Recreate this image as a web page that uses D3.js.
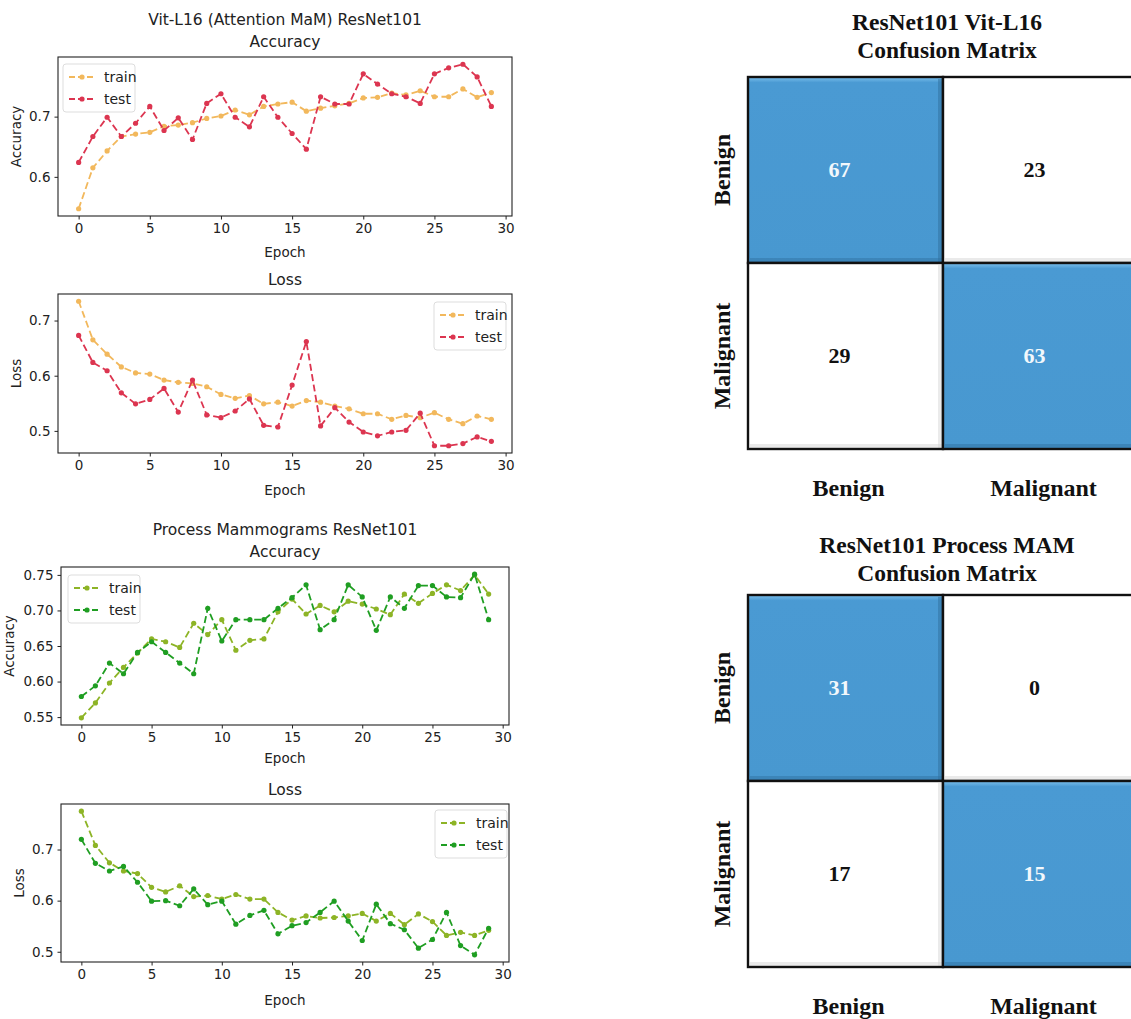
<!DOCTYPE html>
<html lang="en">
<head>
  <meta charset="UTF-8">
  <title>ResNet101 training curves and confusion matrices</title>
  <script src="https://d3js.org/d3.v7.min.js"></script>
  <style>
    body { margin: 0; background: #fff; }
    .plot text { font-family: "DejaVu Sans", sans-serif; fill: #222; }
    .cm text { font-family: "Liberation Serif", "Times New Roman", serif; font-weight: bold; }
    .spine { fill: none; stroke: #222; stroke-width: 1.1px; }
    .axis path { display: none; }
    .axis line { stroke: #222; }
    .axis text { font-size: 13.5px; }
  </style>
</head>
<body>
<svg width="1131" height="1019" id="fig"></svg>

<script>
  // epochs 0..29
  const epochs = d3.range(30);

  // Vit-L16 (Attention MaM) ResNet101
  const vitAccTrain = [0.547, 0.615, 0.643, 0.667, 0.671, 0.674, 0.684, 0.686, 0.690, 0.697,
    0.701, 0.711, 0.703, 0.717, 0.721, 0.724, 0.709, 0.714, 0.718, 0.722,
    0.731, 0.732, 0.739, 0.736, 0.743, 0.733, 0.733, 0.746, 0.732, 0.740];
  const vitAccTest = [0.624, 0.667, 0.699, 0.667, 0.689, 0.717, 0.677, 0.698, 0.662, 0.722,
    0.738, 0.699, 0.683, 0.733, 0.699, 0.672, 0.646, 0.733, 0.721, 0.721,
    0.771, 0.754, 0.738, 0.733, 0.722, 0.771, 0.781, 0.787, 0.766, 0.717];
  const vitLossTrain = [0.735, 0.665, 0.639, 0.616, 0.605, 0.603, 0.592, 0.588, 0.586, 0.580,
    0.566, 0.559, 0.564, 0.549, 0.552, 0.545, 0.555, 0.552, 0.545, 0.540,
    0.531, 0.531, 0.521, 0.528, 0.524, 0.533, 0.521, 0.513, 0.527, 0.521];
  const vitLossTest = [0.673, 0.624, 0.609, 0.569, 0.549, 0.557, 0.577, 0.534, 0.592, 0.529,
    0.524, 0.536, 0.558, 0.510, 0.507, 0.583, 0.662, 0.509, 0.542, 0.516,
    0.498, 0.491, 0.498, 0.501, 0.532, 0.473, 0.473, 0.477, 0.489, 0.481];

  // Process Mammograms ResNet101
  const pmAccTrain = [0.549, 0.570, 0.598, 0.620, 0.640, 0.660, 0.656, 0.648, 0.682, 0.666,
    0.687, 0.644, 0.658, 0.660, 0.698, 0.716, 0.695, 0.707, 0.698, 0.713,
    0.709, 0.702, 0.694, 0.723, 0.710, 0.724, 0.736, 0.728, 0.750, 0.723];
  const pmAccTest = [0.579, 0.594, 0.626, 0.611, 0.641, 0.656, 0.641, 0.626, 0.611, 0.703,
    0.657, 0.687, 0.687, 0.687, 0.703, 0.718, 0.736, 0.673, 0.687, 0.736,
    0.719, 0.672, 0.719, 0.703, 0.735, 0.735, 0.719, 0.718, 0.751, 0.687];
  const pmLossTrain = [0.775, 0.708, 0.674, 0.658, 0.653, 0.626, 0.617, 0.629, 0.608, 0.610,
    0.603, 0.612, 0.603, 0.603, 0.577, 0.562, 0.570, 0.566, 0.567, 0.570,
    0.575, 0.560, 0.575, 0.553, 0.574, 0.559, 0.532, 0.538, 0.532, 0.542];
  const pmLossTest = [0.720, 0.673, 0.658, 0.667, 0.636, 0.599, 0.600, 0.590, 0.623, 0.592,
    0.599, 0.554, 0.571, 0.581, 0.535, 0.551, 0.557, 0.577, 0.599, 0.560,
    0.522, 0.593, 0.555, 0.543, 0.507, 0.524, 0.577, 0.512, 0.494, 0.546];

  const xTicks = [0, 5, 10, 15, 20, 25, 30];
  const seriesNames = ['train', 'test'];

  // confusion matrices
  const classes = ['Benign', 'Malignant'];
  const cmVit = [[67, 23], [29, 63]];
  const cmPm = [[31, 0], [17, 15]];

  const svg = d3.select('#fig');

  function linePanel(o) {
    const g = svg.append('g').attr('class', 'plot');
    const all = o.series.flat();
    const [lo, hi] = d3.extent(all);
    const pad = (hi - lo) * 0.05;
    const x = d3.scaleLinear().domain([-1.45, 30.45]).range([o.box[0], o.box[1]]);
    const y = d3.scaleLinear().domain([lo - pad, hi + pad]).range([o.box[3], o.box[2]]);

    g.append('g').attr('class', 'axis')
      .attr('transform', `translate(0,${o.box[3]})`)
      .call(d3.axisBottom(x).tickValues(xTicks).tickSize(3.5).tickPadding(4).tickFormat(d3.format('d')));
    g.append('g').attr('class', 'axis')
      .attr('transform', `translate(${o.box[0]},0)`)
      .call(d3.axisLeft(y).tickValues(o.yTicks).tickSize(3.5).tickPadding(4).tickFormat(d3.format(o.yFmt)));

    o.series.forEach((s, i) => {
      const line = d3.line().x((d, j) => x(epochs[j])).y(d => y(d));
      g.append('path').datum(s)
        .attr('d', line)
        .attr('fill', 'none')
        .attr('stroke', o.colors[i])
        .attr('stroke-width', 1.8)
        .attr('stroke-dasharray', '7,3.5');
      g.selectAll(null).data(s).enter().append('circle')
        .attr('cx', (d, j) => x(epochs[j]))
        .attr('cy', d => y(d))
        .attr('r', 2.6)
        .attr('fill', o.colors[i]);
    });

    g.append('rect').attr('class', 'spine')
      .attr('x', o.box[0]).attr('y', o.box[2])
      .attr('width', o.box[1] - o.box[0]).attr('height', o.box[3] - o.box[2]);

    // legend
    const lg = g.append('g').attr('transform', `translate(${o.legend[0]},${o.legend[1]})`);
    lg.append('rect').attr('width', 72).attr('height', 48).attr('rx', 3)
      .attr('fill', '#fff').attr('fill-opacity', 0.8).attr('stroke', '#ddd');
    seriesNames.forEach((n, i) => {
      const ly = 13 + i * 22;
      lg.append('line').attr('x1', 6).attr('x2', 32).attr('y1', ly).attr('y2', ly)
        .attr('stroke', o.colors[i]).attr('stroke-width', 1.8).attr('stroke-dasharray', '6,3');
      lg.append('circle').attr('cx', 19).attr('cy', ly).attr('r', 2.6).attr('fill', o.colors[i]);
      lg.append('text').attr('x', 41).attr('y', ly + 5).attr('font-size', 14).text(n);
    });

    const cx = (o.box[0] + o.box[1]) / 2;
    o.title.forEach((t, i) => {
      g.append('text').attr('x', cx).attr('y', o.titleY[i])
        .attr('text-anchor', 'middle').attr('font-size', 15.5).text(t);
    });
    g.append('text').attr('x', cx).attr('y', o.box[3] + o.epochDy)
      .attr('text-anchor', 'middle').attr('font-size', 13.5).text('Epoch');
    g.append('text')
      .attr('transform', `translate(${o.yLabelX},${(o.box[2] + o.box[3]) / 2}) rotate(-90)`)
      .attr('text-anchor', 'middle').attr('font-size', 13.5).text(o.yLabel);
  }

  const orange = ['#f2b85c', '#dc3550'];
  const green = ['#8db426', '#1f9e22'];

  linePanel({ series: [vitAccTrain, vitAccTest], colors: orange, box: [58, 512, 57, 216],
    yTicks: [0.6, 0.7], yFmt: '.1f', yLabel: 'Accuracy', yLabelX: 21, epochDy: 41,
    title: ['Vit-L16 (Attention MaM) ResNet101', 'Accuracy'], titleY: [25, 47], legend: [63, 64] });
  linePanel({ series: [vitLossTrain, vitLossTest], colors: orange, box: [58, 512, 294, 453],
    yTicks: [0.5, 0.6, 0.7], yFmt: '.1f', yLabel: 'Loss', yLabelX: 21, epochDy: 42,
    title: ['Loss'], titleY: [285], legend: [434, 302] });
  linePanel({ series: [pmAccTrain, pmAccTest], colors: green, box: [61, 509, 567, 725],
    yTicks: [0.55, 0.6, 0.65, 0.7, 0.75], yFmt: '.2f', yLabel: 'Accuracy', yLabelX: 14, epochDy: 38,
    title: ['Process Mammograms ResNet101', 'Accuracy'], titleY: [535, 557], legend: [68, 575] });
  linePanel({ series: [pmLossTrain, pmLossTest], colors: green, box: [61, 509, 804, 962],
    yTicks: [0.5, 0.6, 0.7], yFmt: '.1f', yLabel: 'Loss', yLabelX: 24, epochDy: 43,
    title: ['Loss'], titleY: [795], legend: [435, 810] });

  // shaded gradient for the bevelled diagonal cells
  const defs = svg.append('defs');
  const grad = defs.append('linearGradient').attr('id', 'blueCell')
    .attr('x1', 0).attr('y1', 0).attr('x2', 0).attr('y2', 1);
  grad.append('stop').attr('offset', '0%').attr('stop-color', '#7cc0ec');
  grad.append('stop').attr('offset', '3%').attr('stop-color', '#4a9ad3');
  grad.append('stop').attr('offset', '100%').attr('stop-color', '#4898d0');

  function confusion(o) {
    const g = svg.append('g').attr('class', 'cm');
    const x = d3.scaleBand().domain(classes).range([o.left, o.left + 2 * o.cell]);
    const y = d3.scaleBand().domain(classes).range([o.top, o.top + 2 * o.cell2]);
    const cells = [];
    o.matrix.forEach((row, i) => row.forEach((v, j) => cells.push({ r: classes[i], c: classes[j], v, diag: i === j })));

    const cg = g.selectAll('.cell').data(cells).enter().append('g');
    cg.append('rect')
      .attr('x', d => x(d.c)).attr('y', d => y(d.r))
      .attr('width', x.bandwidth()).attr('height', y.bandwidth())
      .attr('fill', d => d.diag ? 'url(#blueCell)' : '#fff');
    // soft inner shadow on the right and bottom edges
    cg.append('rect')
      .attr('x', d => x(d.c) + x.bandwidth() - 5).attr('y', d => y(d.r) + 2)
      .attr('width', 4).attr('height', y.bandwidth() - 3)
      .attr('fill', d => d.diag ? '#2f6f9e' : '#d8d8d8').attr('opacity', 0.5);
    cg.append('rect')
      .attr('x', d => x(d.c) + 2).attr('y', d => y(d.r) + y.bandwidth() - 5)
      .attr('width', x.bandwidth() - 3).attr('height', 4)
      .attr('fill', d => d.diag ? '#2f6f9e' : '#d0d0d0').attr('opacity', 0.45);
    cg.append('rect')
      .attr('x', d => x(d.c)).attr('y', d => y(d.r))
      .attr('width', x.bandwidth()).attr('height', y.bandwidth())
      .attr('fill', 'none').attr('stroke', '#111').attr('stroke-width', 2.4);
    cg.append('text')
      .attr('x', d => x(d.c) + x.bandwidth() / 2 - 6)
      .attr('y', d => y(d.r) + y.bandwidth() / 2 + 7)
      .attr('text-anchor', 'middle').attr('font-size', 22)
      .attr('fill', d => d.diag ? '#f2f8fc' : '#111')
      .text(d => d.v);

    o.title.forEach((t, i) => {
      g.append('text').attr('x', 947).attr('y', o.titleY + i * 28)
        .attr('text-anchor', 'middle').attr('font-size', 23.5).attr('fill', '#111').text(t);
    });
    classes.forEach(c => {
      g.append('text')
        .attr('transform', `translate(${o.left - 18},${y(c) + y.bandwidth() / 2}) rotate(-90)`)
        .attr('text-anchor', 'middle').attr('font-size', 24).attr('fill', '#111').text(c);
      g.append('text').attr('x', x(c) + x.bandwidth() / 2 + 3).attr('y', o.labelY)
        .attr('text-anchor', 'middle').attr('font-size', 24).attr('fill', '#111').text(c);
    });
  }

  confusion({ matrix: cmVit, left: 748, top: 77, cell: 195, cell2: 186,
    title: ['ResNet101 Vit-L16', 'Confusion Matrix'], titleY: 30, labelY: 496 });
  confusion({ matrix: cmPm, left: 748, top: 595, cell: 195, cell2: 186,
    title: ['ResNet101 Process MAM', 'Confusion Matrix'], titleY: 553, labelY: 1014 });
</script>
</body>
</html>
